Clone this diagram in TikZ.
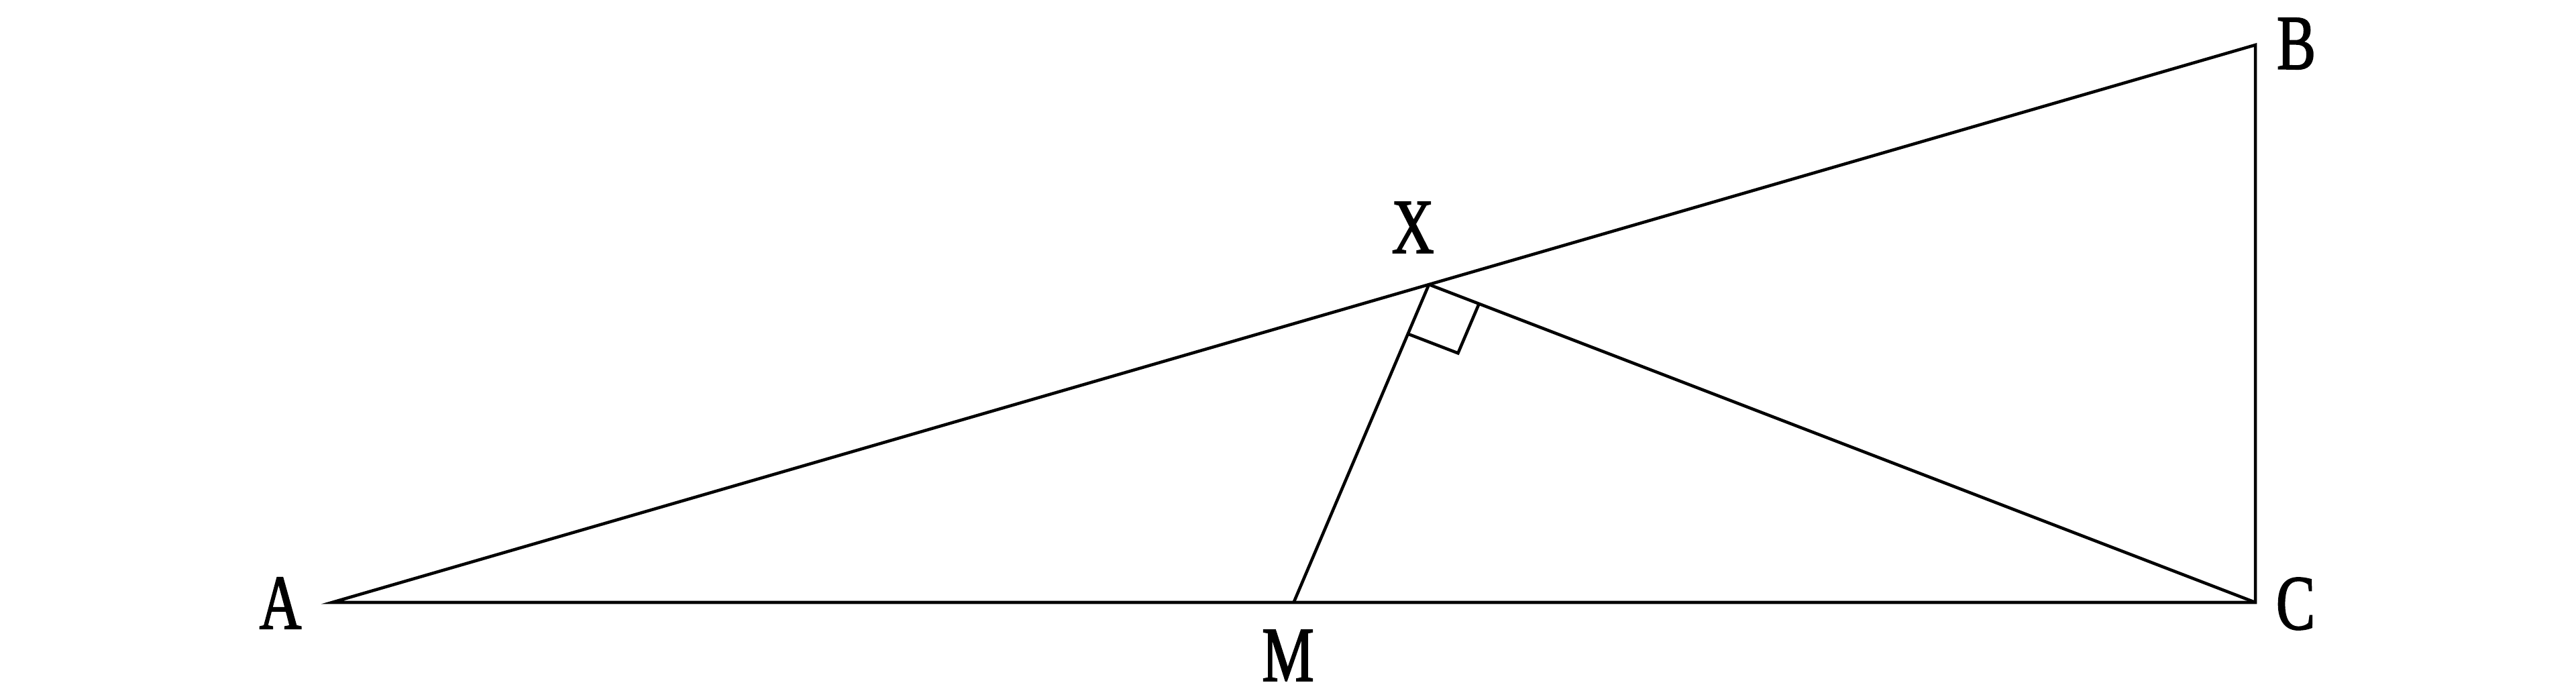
\documentclass[tikz,border=0pt]{standalone}
\usepackage{fontspec}
\setmainfont{Liberation Serif}[FakeStretch=0.75,FakeBold=1.6]
\usepackage{tikz}
\usetikzlibrary{calc}
\tikzset{
	side/.style={black, line width=1.3pt, line join=miter},
	lbl/.style={black, inner sep=0pt, font=\fontsize{33}{36}\selectfont}
}

\begin{document}
\begin{tikzpicture}
			\useasboundingbox (0,0) rectangle (38.4,10.35);
			\coordinate (A) at (4.95,1.37);
			\coordinate (C) at (33.62,1.37);
			\coordinate (B) at (33.62,9.68);
			\coordinate (M) at ($(A)!0.5!(C)$);
			\coordinate (X) at ($(A)!0.5703!(B)$);
			\coordinate (P) at ($(X)!0.8cm!(M)$);
			\coordinate (Q) at ($(X)!0.8cm!(C)$);
			\draw[side] (A) -- (C) -- (B) -- cycle;
			\draw[side] (X) -- (C);
			\draw[side] (X) -- (M);
			\draw[side] (P) -- ($(P)+(Q)-(X)$) -- (Q);
			\node[lbl] (lA) at (4.18,1.36) {A};
			\node[lbl] (lB) at (34.23,9.70) {B};
			\node[lbl] (lC) at (34.22,1.35) {C};
			\node[lbl] (lM) at (19.20,0.58) {M};
			\node[lbl] (lX) at (21.06,6.96) {X};
		\end{tikzpicture}
\end{document}
